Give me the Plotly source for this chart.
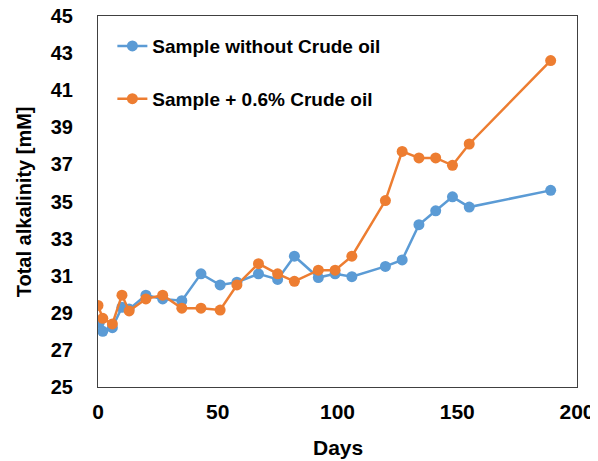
import plotly.graph_objects as go

days_blue = [0.5, 2, 6, 10, 13, 20, 27, 35, 43, 51, 58, 67, 75, 82, 92, 99, 106, 120, 127, 134, 141, 148, 155, 189]
ta_blue = [28.45, 28.0, 28.2, 29.3, 29.2, 29.95, 29.75, 29.65, 31.1, 30.5, 30.65, 31.1, 30.8, 32.05, 30.9, 31.1, 30.95, 31.5, 31.85, 33.75, 34.5, 35.25, 34.7, 35.6]

days_orange = [0, 2, 6, 10, 13, 20, 27, 35, 43, 51, 58, 67, 75, 82, 92, 99, 106, 120, 127, 134, 141, 148, 155, 189]
ta_orange = [29.4, 28.7, 28.4, 29.95, 29.1, 29.75, 29.95, 29.25, 29.25, 29.15, 30.5, 31.65, 31.1, 30.7, 31.3, 31.3, 32.05, 35.05, 37.7, 37.35, 37.35, 36.95, 38.1, 42.6]

fig = go.Figure()
fig.add_trace(go.Scatter(x=days_blue, y=ta_blue, mode='lines+markers',
                         name='Sample without Crude oil', legendgroup='a',
                         line=dict(color='#5B9BD5', width=2.5),
                         marker=dict(color='#5B9BD5', size=11)))
fig.add_trace(go.Scatter(x=days_orange, y=ta_orange, mode='lines+markers',
                         name='Sample + 0.6% Crude oil', legendgroup='b',
                         line=dict(color='#ED7D31', width=2.5),
                         marker=dict(color='#ED7D31', size=11)))

fnt = 'Liberation Sans, Arial'

# page body has an 8px margin, so the figure is 8px smaller and shifted
fig.update_layout(
    width=590, height=453,
    margin=dict(l=90, r=21, t=8, b=74),
    paper_bgcolor='white', plot_bgcolor='white',
    font=dict(family=fnt, color='black'),
    showlegend=True,
    legend=dict(x=0.03, y=0.97, xanchor='left', yanchor='top',
                font=dict(size=19, family=fnt, color='black', weight='bold'),
                traceorder='grouped', tracegroupgap=25, bgcolor='rgba(0,0,0,0)'),
    xaxis=dict(range=[0, 200], dtick=50, tick0=0, showgrid=False, zeroline=False,
               showline=True, linecolor='#404040', linewidth=1, mirror=True,
               ticks='', tickfont=dict(size=21, weight='bold'), ticklabelstandoff=6,
               ticklabeloverflow='allow', automargin=False),
    yaxis=dict(range=[25, 45], dtick=2, tick0=25, showgrid=False, zeroline=False,
               showline=True, linecolor='#404040', linewidth=1, mirror=True,
               ticks='', tickfont=dict(size=20, weight='bold'), ticklabelstandoff=20,
               ticklabeloverflow='allow', automargin=False),
    annotations=[
        dict(text='<b>Days</b>', x=0.5, y=-0.162, xref='paper', yref='paper',
             xanchor='center', yanchor='middle', showarrow=False,
             font=dict(size=21, family=fnt, color='black')),
        dict(text='<b>Total alkalinity [mM]</b>', x=-0.155, y=0.5, xref='paper', yref='paper',
             xanchor='center', yanchor='middle', showarrow=False, textangle=-90,
             font=dict(size=20, family=fnt, color='black')),
    ],
)

fig.write_html("out.html")
